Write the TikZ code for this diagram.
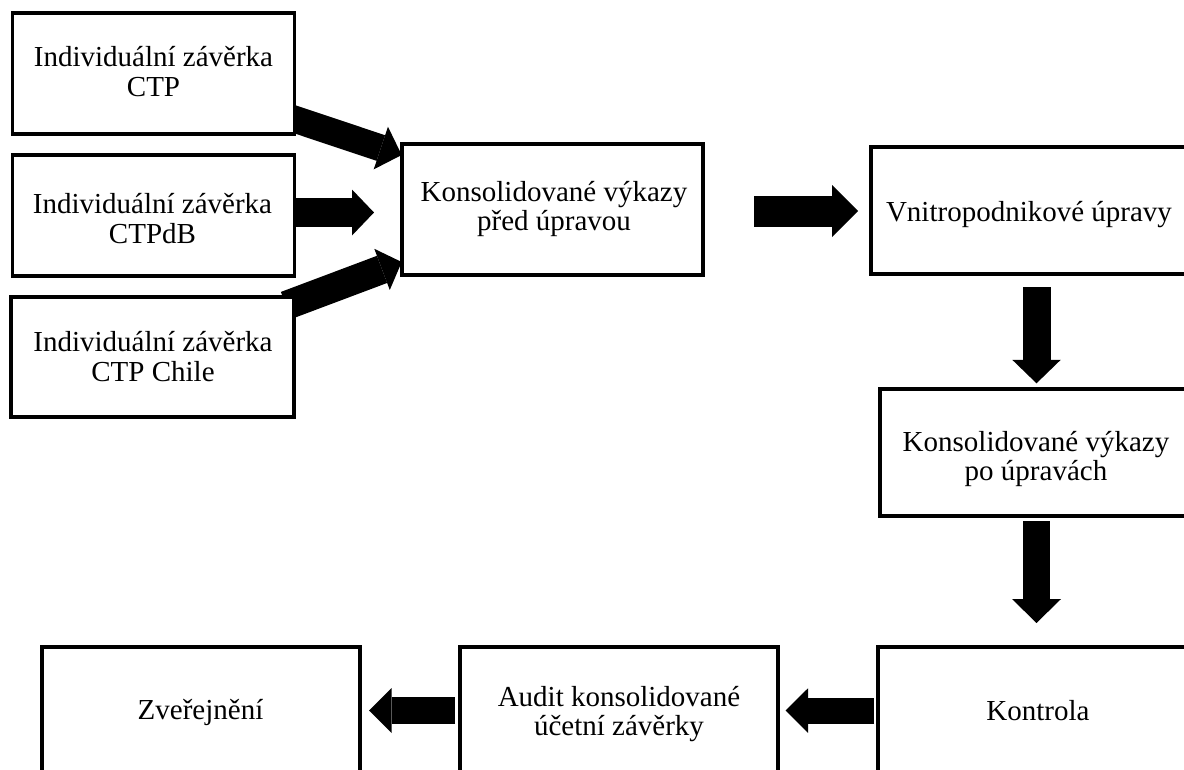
\documentclass[tikz,border=0pt]{standalone}
\usepackage{fontspec}
\setmainfont{Liberation Serif}
\usetikzlibrary{arrows.meta,backgrounds}
\begin{document}
\begin{tikzpicture}[x=1pt,y=-1pt,
  box/.style 2 args={draw=black, line width=3.2pt, fill=white, rectangle,
    inner sep=0pt, outer sep=0pt, minimum width=#1, minimum height=#2},
  lbl/.style={anchor=base, inner sep=0pt, outer sep=0pt,
    font=\fontsize{29}{30}\selectfont},
  fat/.style n args={3}{draw=black, line width=#1,
    -{Triangle[width=#2, length=#3, line width=0pt]}}]
\useasboundingbox (0,0) rectangle (1184,769);
\clip (0,0) rectangle (1184,769);

% boxes
\node[box={282pt}{121pt}] (b1) at (153.5,73.5) {};
\node[box={282pt}{121pt}] (b2) at (153.5,215.5) {};
\node[box={283pt}{120pt}] (b3) at (152.5,357) {};
\node[box={301pt}{131pt}] (kp) at (552.5,209.5) {};
\node[box={319pt}{127pt}] (vn) at (1030.5,210.5) {};
\node[box={310pt}{127pt}] (kpo) at (1035,452.5) {};
\node[box={312pt}{127pt}] (kon) at (1034,710.5) {};
\node[box={318pt}{127pt}] (aud) at (619,710.5) {};
\node[box={318pt}{127pt}] (zv) at (201,710.5) {};

% texts
\node[lbl] (t1a) at (153.5,66) {Individuální závěrka};
\node[lbl] (t1b) at (153.5,96) {CTP};
\node[lbl] (t2a) at (152.5,213) {Individuální závěrka};
\node[lbl] (t2b) at (152.5,243) {CTPdB};
\node[lbl] (t3a) at (153,351.5) {Individuální závěrka};
\node[lbl] (t3b) at (153,381.5) {CTP Chile};
\node[lbl] (tkpa) at (554,201.5) {Konsolidované výkazy};
\node[lbl] (tkpb) at (554,230.5) {před úpravou};
\node[lbl] (tvn) at (1029,221.5) {Vnitropodnikové úpravy};
\node[lbl] (tkpoa) at (1036,451.5) {Konsolidované výkazy};
\node[lbl] (tkpob) at (1036,480) {po úpravách};
\node[lbl] (tkon) at (1038,720) {Kontrola};
\node[lbl] (tauda) at (619,706.5) {Audit konsolidované};
\node[lbl] (taudb) at (619,735) {účetní závěrky};
\node[lbl] (tzv) at (200.5,719.5) {Zveřejnění};

% arrows
\begin{pgfonlayer}{background}
\fill[white] (0,0) rectangle (1184,769);
\draw[fat={27pt}{45pt}{22pt}] ([xshift=-6.5pt,yshift=-43.5pt]b1.east) -- ([xshift=-0.3pt,yshift=54.5pt]kp.west);
\draw[fat={29pt}{46pt}{22pt}] ([xshift=-4.5pt,yshift=3pt]b2.east) -- ([xshift=-28pt,yshift=-3pt]kp.west);
\draw[fat={29pt}{44pt}{21pt}] ([xshift=-8pt,yshift=51.5pt]b3.east) -- ([xshift=-0.3pt,yshift=-52.5pt]kp.west);
\draw[fat={31pt}{52pt}{26pt}] ([xshift=51pt,yshift=-1.5pt]kp.east) -- ([xshift=-13pt,yshift=-0.5pt]vn.west);
\draw[fat={28pt}{48.5pt}{23.5pt}] ([xshift=6pt,yshift=-13pt]vn.south) -- ([xshift=1.5pt,yshift=5.7pt]kpo.north);
\draw[fat={27.5pt}{49pt}{24pt}] ([xshift=1.5pt,yshift=-5pt]kpo.south) -- ([xshift=2.5pt,yshift=24pt]kon.north);
\draw[fat={26pt}{44.5pt}{22.5pt}] ([xshift=-4pt]kon.west) -- ([xshift=7.5pt]aud.east);
\draw[fat={26.5pt}{45pt}{22.7pt}] ([xshift=-5pt]aud.west) -- ([xshift=9pt]zv.east);
\end{pgfonlayer}
\end{tikzpicture}
\end{document}
